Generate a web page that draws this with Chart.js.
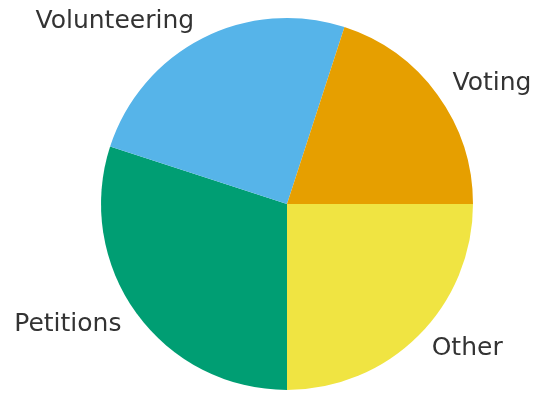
<!DOCTYPE html>
<html>
<head>
<meta charset="utf-8">
<title>Civic participation pie</title>
<script src="https://cdn.jsdelivr.net/npm/chart.js@4"></script>
<style>
    html, body { margin: 0; padding: 0; background: #ffffff; }
    canvas { display: block; }
</style>
</head>
<body>
<canvas id="pie-chart" width="535" height="395"></canvas>
<script>
// slices listed in the order Chart.js draws them (clockwise, starting at the bottom)
const categories = ['Petitions', 'Volunteering', 'Voting', 'Other'];
const shares = [30, 25, 20, 25];
const sliceColors = ['#009E73', '#56B4E9', '#E69F00', '#F0E442'];

/**
 * Draws each category name just outside its slice, like matplotlib's labeldistance=1.1
 */
const outsideLabels = {
    id: 'outsideLabels',
    afterDatasetsDraw(chart) {
        const ctx = chart.ctx;
        const arcs = chart.getDatasetMeta(0).data;
        ctx.save();
        ctx.font = '25px "DejaVu Sans"';
        ctx.fillStyle = '#333333';
        ctx.textBaseline = 'middle';
        arcs.forEach((arc, i) => {
            const mid = (arc.startAngle + arc.endAngle) / 2;
            const r = arc.outerRadius * 1.1;
            const x = arc.x + Math.cos(mid) * r;
            const y = arc.y + Math.sin(mid) * r;
            ctx.textAlign = Math.cos(mid) >= 0 ? 'left' : 'right';
            ctx.fillText(chart.data.labels[i], x, y);
        });
        ctx.restore();
    }
};

new Chart(document.getElementById('pie-chart'), {
    type: 'pie',
    data: {
        labels: categories,
        datasets: [
            {
                data: shares,
                backgroundColor: sliceColors,
                borderWidth: 0,
                hoverOffset: 0
            }
        ]
    },
    options: {
        responsive: false,
        animation: false,
        rotation: 180,
        layout: {
            padding: { left: 101, right: 62, top: 18, bottom: 5 }
        },
        plugins: {
            legend: { display: false },
            tooltip: { enabled: false }
        }
    },
    plugins: [outsideLabels]
});
</script>
</body>
</html>
